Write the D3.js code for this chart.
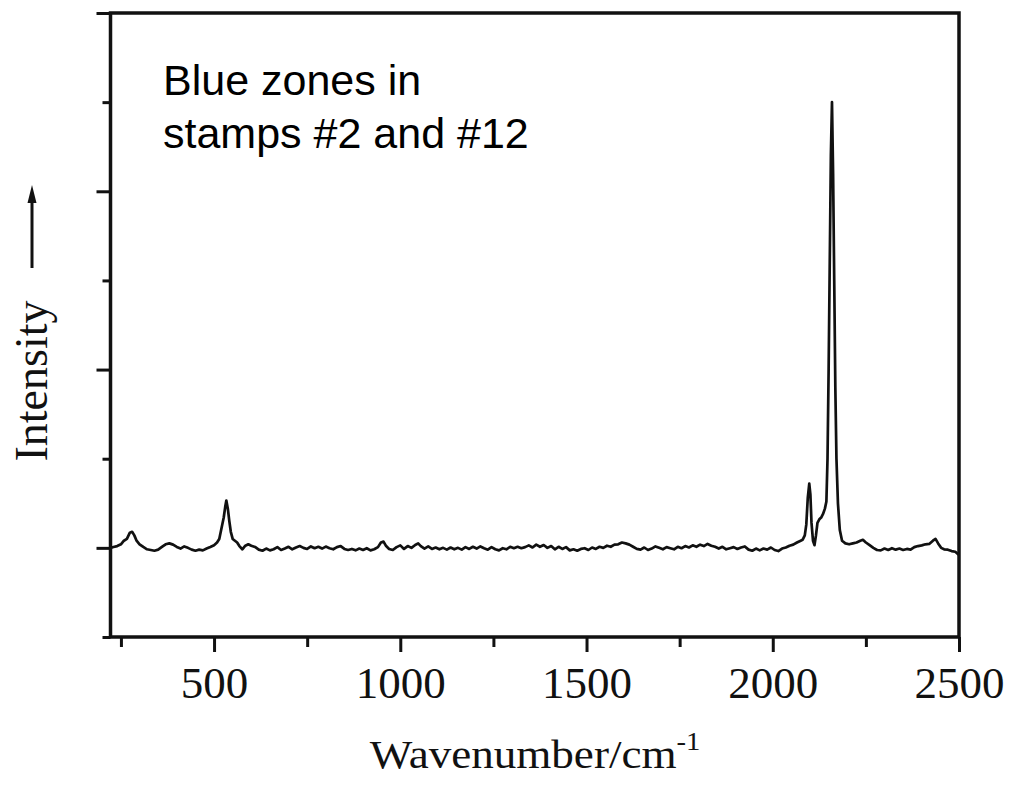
<!DOCTYPE html>
<html>
<head>
<meta charset="utf-8">
<script src="https://cdn.jsdelivr.net/npm/d3@7"></script>
<style>
  html, body { margin: 0; padding: 0; background: #fff; }
  svg { display: block; }
</style>
</head>
<body>
<svg id="chart" width="1014" height="785"></svg>
<script>
// Raman spectrum: wavenumber (cm^-1) and relative intensity
const wavenumber = [
  222, 230, 240, 250, 258, 266, 274, 280, 286, 292, 300, 310, 320, 330, 340, 350, 360, 370, 380, 390,
  400, 410, 420, 430, 440, 450, 460, 470, 480, 490, 500, 508, 514, 520, 526, 530, 533, 537, 541, 545,
  550, 556, 562, 568, 576, 584, 592, 600, 610, 620, 630, 640, 650, 660, 670, 680, 690, 700, 710, 720,
  730, 740, 750, 760, 770, 780, 790, 800, 810, 820, 830, 840, 850, 860, 870, 880, 890, 900, 910, 920,
  930, 940, 948, 955, 962, 970, 980, 990, 1000, 1010, 1020, 1030, 1040, 1048, 1055, 1065, 1075, 1085, 1095, 1105,
  1115, 1125, 1135, 1145, 1155, 1165, 1175, 1185, 1195, 1205, 1215, 1225, 1235, 1245, 1255, 1265, 1275, 1285, 1295, 1305,
  1315, 1325, 1335, 1345, 1355, 1365, 1375, 1385, 1395, 1405, 1415, 1425, 1435, 1445, 1455, 1465, 1475, 1485, 1495, 1505,
  1515, 1525, 1535, 1545, 1555, 1565, 1575, 1585, 1595, 1605, 1615, 1625, 1635, 1645, 1655, 1665, 1675, 1685, 1695, 1705,
  1715, 1725, 1735, 1745, 1755, 1765, 1775, 1785, 1795, 1805, 1815, 1825, 1835, 1845, 1855, 1865, 1875, 1885, 1895, 1905,
  1915, 1925, 1935, 1945, 1955, 1965, 1975, 1985, 1995, 2005, 2015, 2025, 2035, 2045, 2055, 2065, 2075, 2080, 2086, 2090,
  2094, 2098, 2101, 2104, 2108, 2112, 2116, 2120, 2125, 2130, 2135, 2140, 2144, 2147, 2150, 2153, 2156, 2159, 2162, 2165,
  2168, 2171, 2175, 2180, 2186, 2195, 2205, 2215, 2225, 2235, 2242, 2250, 2260, 2270, 2280, 2290, 2300, 2310, 2320, 2330,
  2340, 2350, 2360, 2370, 2380, 2390, 2400, 2410, 2420, 2430, 2437, 2444, 2452, 2460, 2470, 2480, 2490, 2500
];
const intensity = [
  0.000, 0.005, 0.010, 0.020, 0.040, 0.050, 0.085, 0.090, 0.070, 0.040, 0.020, 0.005, -0.008, -0.012, -0.016, -0.010, 0.005, 0.020, 0.025, 0.018,
  0.005, -0.004, 0.008, 0.000, -0.010, -0.016, -0.010, -0.014, -0.004, 0.005, 0.015, 0.030, 0.050, 0.110, 0.170, 0.230, 0.265, 0.220, 0.150, 0.090,
  0.050, 0.040, 0.030, 0.010, -0.008, 0.012, 0.020, 0.012, 0.005, -0.010, -0.016, -0.004, -0.014, -0.008, 0.004, -0.012, -0.004, 0.006, -0.008, 0.002,
  0.010, 0.000, -0.006, 0.008, -0.002, 0.006, -0.004, 0.007, -0.002, -0.008, 0.004, 0.010, -0.006, -0.012, -0.006, -0.014, -0.004, -0.012, -0.002, -0.014,
  -0.008, 0.004, 0.030, 0.035, 0.010, -0.006, -0.012, 0.004, 0.014, -0.006, 0.010, 0.000, 0.016, 0.025, 0.010, -0.004, 0.008, -0.006, 0.002, -0.008,
  0.000, -0.010, 0.002, -0.008, 0.000, -0.010, 0.004, -0.006, 0.006, -0.004, 0.008, -0.002, -0.010, 0.004, -0.008, -0.014, -0.002, -0.008, 0.006, -0.002,
  0.006, -0.002, 0.004, 0.014, 0.002, 0.018, 0.006, 0.016, 0.000, 0.010, -0.008, 0.006, -0.006, 0.004, -0.014, -0.008, -0.016, -0.006, -0.002, -0.012,
  0.002, -0.006, 0.006, 0.000, 0.012, 0.006, 0.018, 0.020, 0.030, 0.025, 0.018, 0.006, -0.006, -0.010, 0.002, -0.012, -0.004, 0.008, 0.000, -0.008,
  0.004, -0.002, -0.008, 0.006, -0.002, 0.010, 0.002, 0.014, 0.006, 0.018, 0.010, 0.022, 0.012, 0.006, -0.004, 0.006, -0.008, -0.002, 0.004, -0.006,
  0.002, 0.008, -0.010, -0.016, -0.004, -0.014, -0.004, -0.010, 0.002, -0.012, -0.018, -0.004, 0.002, 0.012, 0.018, 0.030, 0.040, 0.045, 0.070, 0.130,
  0.280, 0.360, 0.300, 0.140, 0.040, 0.015, 0.070, 0.140, 0.160, 0.170, 0.190, 0.220, 0.260, 0.500, 1.000, 1.600, 2.200, 2.500, 2.100, 1.500,
  0.900, 0.500, 0.250, 0.100, 0.040, 0.025, 0.020, 0.025, 0.030, 0.040, 0.045, 0.030, 0.015, 0.000, -0.012, -0.014, -0.004, -0.012, -0.002, -0.010,
  -0.004, -0.012, -0.006, -0.010, 0.004, 0.010, 0.014, 0.020, 0.022, 0.040, 0.050, 0.025, 0.000, -0.008, -0.010, -0.018, -0.022, -0.040
];

// Axis ticks
const xMajorTicks = [500, 1000, 1500, 2000, 2500];
const xMinorTicks = [250, 750, 1250, 1750, 2250];
const yMajorTicks = [0, 1, 2, 3];
const yMinorTicks = [-0.5, 0.5, 1.5, 2.5];

const annotationLines = ["Blue zones in", "stamps #2 and #12"];

const svg = d3.select("#chart");
const plotLeft = 110.5, plotRight = 959, plotTop = 13, plotBottom = 637;

const x = d3.scaleLinear().domain([222, 2500]).range([plotLeft, plotRight]);
const y = d3.scaleLinear().domain([-0.5, 3]).range([plotBottom, plotTop]);

const serif = "'Liberation Serif', 'Times New Roman', serif";

// Spectrum trace
const points = wavenumber.map((w, i) => [w, intensity[i]]);
svg.append("path")
  .datum(points)
  .attr("fill", "none")
  .attr("stroke", "#111")
  .attr("stroke-width", 2.7)
  .attr("stroke-linejoin", "round")
  .attr("d", d3.line().x(d => x(d[0])).y(d => y(d[1])));

// Bottom axis: major ticks with labels, minor ticks without
const xAxis = svg.append("g").attr("transform", `translate(0,${plotBottom})`)
  .call(d3.axisBottom(x).tickValues(xMajorTicks).tickSize(15).tickSizeOuter(0).tickFormat(d3.format("d")));
svg.append("g").attr("transform", `translate(0,${plotBottom})`)
  .call(d3.axisBottom(x).tickValues(xMinorTicks).tickSize(10).tickSizeOuter(0).tickFormat(""));

// Left axis: ticks only
svg.append("g").attr("transform", `translate(${plotLeft},0)`)
  .call(d3.axisLeft(y).tickValues(yMajorTicks).tickSize(14).tickSizeOuter(0).tickFormat(""));
svg.append("g").attr("transform", `translate(${plotLeft},0)`)
  .call(d3.axisLeft(y).tickValues(yMinorTicks).tickSize(8).tickSizeOuter(0).tickFormat(""));

svg.selectAll(".domain").remove();
svg.selectAll(".tick line").attr("stroke", "#111").attr("stroke-width", 3);
xAxis.selectAll(".tick text")
  .attr("font-family", serif)
  .attr("font-size", 45)
  .attr("fill", "#111")
  .attr("y", 61)
  .attr("dy", 0);

// Frame
svg.append("rect")
  .attr("x", plotLeft).attr("y", plotTop)
  .attr("width", plotRight - plotLeft).attr("height", plotBottom - plotTop)
  .attr("fill", "none").attr("stroke", "#111").attr("stroke-width", 3.5);

// X axis title with superscript
const xt = svg.append("text")
  .attr("transform", "translate(535,768) scale(1.1,1)")
  .attr("text-anchor", "middle")
  .attr("font-family", serif)
  .attr("font-size", 41)
  .attr("fill", "#111");
xt.append("tspan").text("Wavenumber/cm");
xt.append("tspan").attr("font-size", 26).attr("dy", -18).text("-1");

// Y axis title with upward arrow
svg.append("text")
  .attr("transform", "translate(47,381) rotate(-90)")
  .attr("text-anchor", "middle")
  .attr("font-family", serif)
  .attr("font-size", 46)
  .attr("fill", "#111")
  .text("Intensity");
svg.append("line")
  .attr("x1", 32).attr("x2", 32).attr("y1", 268).attr("y2", 198)
  .attr("stroke", "#111").attr("stroke-width", 3);
svg.append("path")
  .attr("d", "M32,185 L27.5,203 L36.5,203 Z")
  .attr("fill", "#111");

// Annotation
const ann = svg.append("text")
  .attr("font-family", "'Liberation Sans', Arial, sans-serif")
  .attr("font-size", 43)
  .attr("fill", "#000");
annotationLines.forEach((t, i) => {
  ann.append("tspan").attr("x", 163).attr("y", 95 + i * 53).text(t);
});
</script>
</body>
</html>
